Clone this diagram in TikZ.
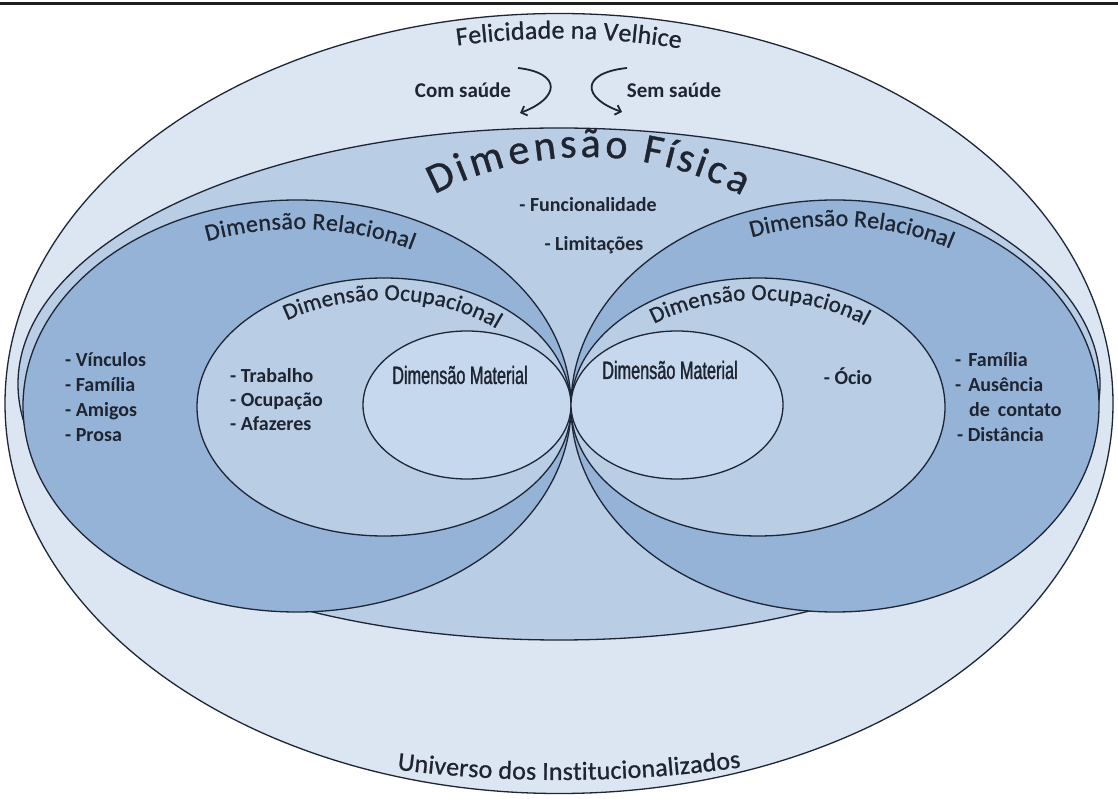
\documentclass[tikz,border=0pt]{standalone}
\usepackage{fontspec}
\setmainfont{Carlito}
\newfontfamily\semib[FakeBold=0.8]{Carlito}
\newfontfamily\narrowfont[FakeStretch=0.65, FakeBold=1.2]{Liberation Sans}
\usetikzlibrary{shapes.geometric,decorations.text,arrows.meta}
\definecolor{cUniv}{HTML}{DCE6F2}
\definecolor{cFis}{HTML}{B9CDE5}
\definecolor{cRel}{HTML}{95B3D7}
\definecolor{cOcu}{HTML}{B9CDE5}
\definecolor{cMat}{HTML}{C6D8EE}
\definecolor{cLine}{HTML}{1C2636}
\definecolor{cTxt}{HTML}{1E2430}
\begin{document}
\begin{tikzpicture}[x=1pt,y=1pt,
  ring/.style={ellipse, draw=cLine, line width=1.3pt, inner sep=0pt, outer sep=0pt},
  item/.style={font=\bfseries\fontsize{20}{25}\selectfont, text=cTxt, inner sep=0pt},
  matlabel/.style={font=\narrowfont\fontsize{25}{25}\selectfont, text=cTxt, inner sep=0pt},
  curved/.style={decorate, text=cTxt, decoration={text effects along path, text={#1},
     text effects/.cd, text along path, fit text to path}},
  bendarrow/.style={line width=1.8pt, draw=cTxt, -{Straight Barb[length=5pt,width=10pt]}}
]
\useasboundingbox (0,0) rectangle (1118,798);
\fill[white] (0,0) rectangle (1118,798);
\coordinate (ruleL) at (0,794.5);
\coordinate (ruleR) at (1118,794.5);
\draw[line width=3pt, black!88] (ruleL) -- (ruleR);

% ellipses
\node[ring, fill=cUniv, minimum width=1108pt, minimum height=780pt] (univ) at (559,394.5) {};
\node[ring, fill=cFis, minimum width=1082pt, minimum height=512pt] (fis) at (559,414) {};
\node[ring, fill=cRel, minimum width=548pt, minimum height=412pt] (relL) at (297,392) {};
\node[ring, fill=cRel, minimum width=528pt, minimum height=412pt] (relR) at (835,392) {};
\node[ring, fill=cOcu, minimum width=374pt, minimum height=258pt] (ocuL) at (384,391) {};
\node[ring, fill=cOcu, minimum width=374pt, minimum height=258pt] (ocuR) at (758,391) {};
\node[ring, fill=cMat, minimum width=208pt, minimum height=148pt] (matL) at (467,393) {};
\node[ring, fill=cMat, minimum width=212pt, minimum height=148pt] (matR) at (677,393) {};

% curved labels
\path[curved={Felicidade na Velhice}, font=\semib\fontsize{26}{26}\selectfont]
  (559,394.5) ++(101.3:520pt and 365pt) arc[start angle=101.3, end angle=76.5, x radius=520pt, y radius=365pt];
\path[curved={Dimensão Física}, font=\semib\fontsize{42}{42}\selectfont]
  (587,311) ++(117.5:330pt) arc[start angle=117.5, end angle=62, radius=330pt];
\path[curved={Dimensão Relacional}, font=\semib\fontsize{24}{24}\selectfont]
  (297,392) ++(111.5:245pt and 177pt) arc[start angle=111.5, end angle=62, x radius=245pt, y radius=177pt];
\path[curved={Dimensão Relacional}, font=\semib\fontsize{24}{24}\selectfont]
  (835,392) ++(110.5:238pt and 180pt) arc[start angle=110.5, end angle=61, x radius=238pt, y radius=180pt];
\path[curved={Dimensão Ocupacional}, font=\semib\fontsize{23}{23}\selectfont]
  (384,391) ++(126:165pt and 107pt) arc[start angle=126, end angle=47, x radius=165pt, y radius=107pt];
\path[curved={Dimensão Ocupacional}, font=\semib\fontsize{23}{23}\selectfont]
  (758,391) ++(129:165pt and 107pt) arc[start angle=129, end angle=49.5, x radius=165pt, y radius=107pt];
\path[curved={Universo dos Institucionalizados}, font=\semib\fontsize{26}{26}\selectfont]
  (560,1318) ++(262.8:1300pt) arc[start angle=262.8, end angle=278, radius=1300pt];

% arrows
\node[item, font=\bfseries\fontsize{21}{21}\selectfont] (com) at (463,708) {Com saúde};
\node[item, font=\bfseries\fontsize{21}{21}\selectfont] (sem) at (674,708) {Sem saúde};
\coordinate (cs0) at (518,730);
\coordinate (cs1) at (520,685);
\draw[bendarrow] (cs0) .. controls (562,725) and (560,700) .. (cs1);
\coordinate (ss0) at (627,730);
\coordinate (ss1) at (622,686);
\draw[bendarrow] (ss0) .. controls (580,725) and (582,700) .. (ss1);

% straight labels
\node[item] (func) at (588,593) {- Funcionalidade};
\node[item] (limit) at (594,553) {- Limitações};
\node[item, anchor=west, align=left] (listL) at (65,400.5) {- Vínculos\\- Família\\- Amigos\\- Prosa};
\node[item, anchor=west, align=left, font=\bfseries\fontsize{20}{24}\selectfont] (listO) at (230,398.5) {- Trabalho\\- Ocupação\\- Afazeres};
\node[item, anchor=west, align=left] (listR) at (955,400.5) {-\hspace{7pt}Família\\-\hspace{7pt}Ausência\\\hspace{14pt}de\hspace{8pt}contato\\\hspace{2pt}- Distância};
\node[item] (ocio) at (848,422) {- Ócio};
\node[matlabel] (matLt) at (460,423) {Dimensão Material};
\node[matlabel] (matRt) at (670,428) {Dimensão Material};
\end{tikzpicture}
\end{document}
